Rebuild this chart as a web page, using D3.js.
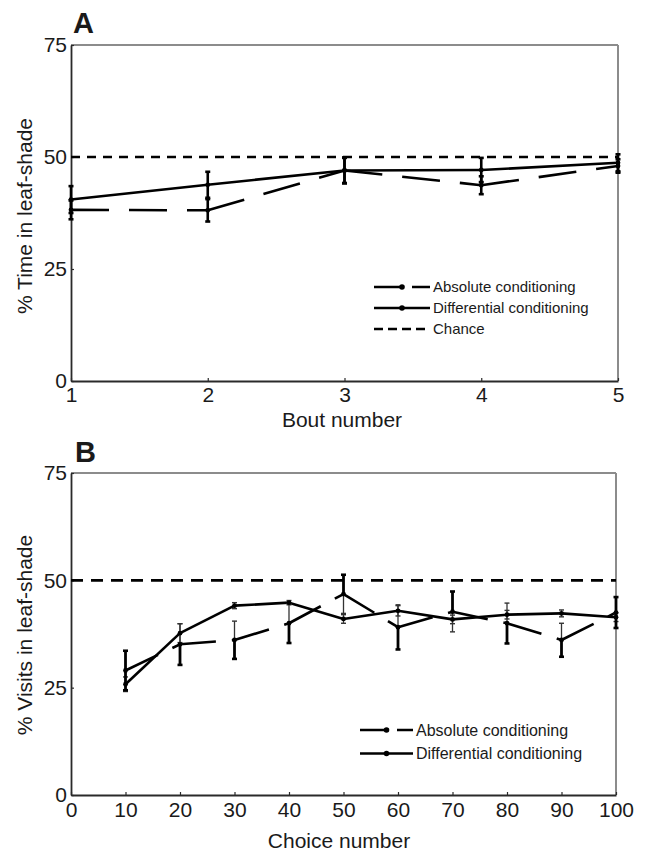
<!DOCTYPE html>
<html>
<head>
<meta charset="utf-8">
<script src="https://cdn.jsdelivr.net/npm/d3@7/dist/d3.min.js"></script>
<style>
  html, body { margin: 0; padding: 0; background: #fff; }
  svg text { font-family: "Liberation Sans", Arial, Helvetica, sans-serif; fill: #1a1a1a; }
</style>
</head>
<body>
<svg id="fig" width="645" height="853"></svg>
<script>
// Panel A: share of time spent on the leaf-shade side over five bouts
const boutNumbers = [1, 2, 3, 4, 5];
const boutAbsolute = [38.2, 38.1, 47.0, 43.7, 48.0];
const boutAbsoluteErr = [2.1, 2.5, 2.9, 2.0, 1.5];
const boutDifferential = [40.5, 43.8, 47.0, 47.1, 48.7];
const boutDifferentialErr = [3.0, 2.9, 2.8, 2.7, 1.9];

// Panel B: share of visits to leaf-shade over blocks of ten choices
const choiceNumbers = [10, 20, 30, 40, 50, 60, 70, 80, 90, 100];
const choiceAbsolute = [29.0, 35.1, 36.1, 40.0, 46.8, 39.1, 42.7, 40.0, 36.1, 42.5];
const choiceAbsoluteErr = [4.6, 4.8, 4.4, 4.6, 4.5, 5.2, 4.7, 4.7, 3.9, 3.6];
const choiceDifferential = [25.8, 37.7, 44.1, 44.8, 41.0, 42.9, 40.9, 42.0, 42.3, 41.4];
const choiceDifferentialErr = [1.7, 2.2, 0.7, 0.5, 1.0, 1.2, 1.0, 1.0, 0.8, 1.0];

const chanceLevel = 50;
const yTicks = [0, 25, 50, 75];
const boutTicks = [1, 2, 3, 4, 5];
const choiceTicks = [0, 10, 20, 30, 40, 50, 60, 70, 80, 90, 100];

const svg = d3.select("#fig");

function drawPanel(cfg) {
  const g = svg.append("g");
  const x = cfg.x, y = cfg.y;
  const [x0, x1] = x.range();
  const [y0, y1] = y.range(); // y0 bottom, y1 top

  // frame: grey top and right edges
  g.append("line").attr("x1", x0).attr("x2", x1).attr("y1", y1).attr("y2", y1)
    .attr("stroke", "#8c8c8c").attr("stroke-width", 2);
  g.append("line").attr("x1", x1).attr("x2", x1).attr("y1", y1).attr("y2", y0)
    .attr("stroke", "#8c8c8c").attr("stroke-width", 2);

  // axes
  const xAxis = d3.axisBottom(x).tickValues(cfg.xTicks).tickSize(-3).tickSizeOuter(0)
    .tickPadding(cfg.xPad).tickFormat(d3.format("d"));
  const yAxis = d3.axisLeft(y).tickValues(yTicks).tickSize(-3).tickSizeOuter(0)
    .tickPadding(4).tickFormat(d3.format("d"));

  const gx = g.append("g").attr("transform", `translate(0,${y0})`).call(xAxis);
  const gy = g.append("g").attr("transform", `translate(${x0},0)`).call(yAxis);
  [gx, gy].forEach(a => {
    a.select(".domain").attr("stroke", "#2a2a2a").attr("stroke-width", 1.8);
    a.selectAll(".tick line").attr("stroke", "#2a2a2a").attr("stroke-width", 1.2);
    a.selectAll("text").style("font-size", "21px").attr("fill", "#1a1a1a");
  });

  // chance level
  g.append("line")
    .attr("x1", x0).attr("x2", x1)
    .attr("y1", y(chanceLevel)).attr("y2", y(chanceLevel))
    .attr("stroke", "#000").attr("stroke-width", 2.6)
    .attr("stroke-dasharray", cfg.chanceDash);

  // series lines, dash pattern restarting at each vertex
  function seriesLine(xs, ys, dash, width) {
    const pts = xs.map((v, i) => [x(v), y(ys[i])]);
    const segs = d3.pairs(pts);
    g.append("g").selectAll("line").data(segs).join("line")
      .attr("x1", d => d[0][0]).attr("y1", d => d[0][1])
      .attr("x2", d => d[1][0]).attr("y2", d => d[1][1])
      .attr("stroke", "#000").attr("stroke-width", width)
      .attr("stroke-linecap", "butt")
      .attr("stroke-dasharray", dash);
  }
  seriesLine(cfg.xs, cfg.diff, null, 2.6);
  seriesLine(cfg.xs, cfg.abs, cfg.absDash, 2.6);

  // error bars
  function errorBars(xs, ys, es, widthFn, capW) {
    const eg = g.append("g");
    xs.forEach((v, i) => {
      const cx = x(v);
      const parts = [[ys[i], ys[i] + es[i], "up"], [ys[i] - es[i], ys[i], "down"]];
      parts.forEach(p => {
        const w = widthFn(i, p[2]);
        eg.append("line").attr("x1", cx).attr("x2", cx)
          .attr("y1", y(p[0])).attr("y2", y(p[1]))
          .attr("stroke", w < 2 ? "#333" : "#000").attr("stroke-width", w);
      });
      [ys[i] + es[i], ys[i] - es[i]].forEach((c, k) => {
        const w = widthFn(i, k === 0 ? "up" : "down");
        eg.append("line").attr("x1", cx - capW).attr("x2", cx + capW)
          .attr("y1", y(c)).attr("y2", y(c))
          .attr("stroke", w < 2 ? "#333" : "#000").attr("stroke-width", w < 2 ? 1.4 : 2.6);
      });
    });
  }
  errorBars(cfg.xs, cfg.diff, cfg.diffErr, cfg.diffBarWidth, 2.5);
  errorBars(cfg.xs, cfg.abs, cfg.absErr, cfg.absBarWidth, 2.5);

  // markers
  [cfg.abs, cfg.diff].forEach(vals => {
    g.append("g").selectAll("circle").data(vals).join("circle")
      .attr("cx", (d, i) => x(cfg.xs[i])).attr("cy", d => y(d))
      .attr("r", 2.4).attr("fill", "#000");
  });

  // panel letter
  g.append("text").attr("x", cfg.letterPos[0]).attr("y", cfg.letterPos[1])
    .style("font-size", "29px").style("font-weight", "bold").attr("fill", "#000")
    .text(cfg.letter);

  // axis titles
  g.append("text").attr("x", cfg.xTitlePos[0]).attr("y", cfg.xTitlePos[1])
    .attr("text-anchor", "middle").style("font-size", "21px").text(cfg.xTitle);
  g.append("text")
    .attr("transform", `translate(${cfg.yTitlePos[0]},${cfg.yTitlePos[1]}) rotate(-90)`)
    .attr("text-anchor", "middle").attr("dy", "0.35em")
    .style("font-size", "21px").text(cfg.yTitle);

  // legend
  const lg = g.append("g");
  cfg.legend.forEach((item, i) => {
    const ly = cfg.legendPos[1] + i * cfg.legendStep;
    const lx0 = cfg.legendPos[0], lx1 = lx0 + cfg.legendLen;
    lg.append("line").attr("x1", lx0).attr("x2", lx1).attr("y1", ly).attr("y2", ly)
      .attr("stroke", "#000").attr("stroke-width", 2.6)
      .attr("stroke-dasharray", item.dash);
    if (item.marker) {
      lg.append("circle").attr("cx", lx0 + cfg.legendLen / 2).attr("cy", ly)
        .attr("r", 2.8).attr("fill", "#000");
    }
    lg.append("text").attr("x", lx1 + 3).attr("y", ly).attr("dy", "0.35em")
      .style("font-size", cfg.legendFont).text(item.label);
  });
}

// Panel A
drawPanel({
  letter: "A", letterPos: [73, 33],
  x: d3.scaleLinear().domain([1, 5]).range([71, 618]),
  y: d3.scaleLinear().domain([0, 75]).range([381, 45]),
  xTicks: boutTicks, xPad: 6,
  xs: boutNumbers,
  abs: boutAbsolute, absErr: boutAbsoluteErr,
  diff: boutDifferential, diffErr: boutDifferentialErr,
  absDash: "38,20", chanceDash: "9,7",
  absBarWidth: () => 2.6, diffBarWidth: () => 2.6,
  xTitle: "Bout number", xTitlePos: [342, 427],
  yTitle: "% Time in leaf-shade", yTitlePos: [25, 216],
  legendPos: [374, 287], legendStep: 21, legendLen: 56, legendFont: "15px",
  legend: [
    { label: "Absolute conditioning", dash: "30,8", marker: true },
    { label: "Differential conditioning", dash: null, marker: true },
    { label: "Chance", dash: "9,5", marker: false }
  ]
});

// Panel B: the half of each absolute-conditioning bar that points toward the
// differential curve is drawn thin, the other half heavy
drawPanel({
  letter: "B", letterPos: [75, 462],
  x: d3.scaleLinear().domain([0, 100]).range([71, 616]),
  y: d3.scaleLinear().domain([0, 75]).range([795, 473]),
  xTicks: choiceTicks, xPad: 7,
  xs: choiceNumbers,
  abs: choiceAbsolute, absErr: choiceAbsoluteErr,
  diff: choiceDifferential, diffErr: choiceDifferentialErr,
  absDash: "36,16", chanceDash: "12,8",
  absBarWidth: (i, dir) => {
    const towardUp = choiceDifferential[i] > choiceAbsolute[i];
    const thin = (dir === "up") === towardUp;
    return thin && i > 0 && i < choiceNumbers.length - 1 ? 1.3 : 2.8;
  },
  diffBarWidth: () => 1.3,
  xTitle: "Choice number", xTitlePos: [339, 848],
  yTitle: "% Visits in leaf-shade", yTitlePos: [25, 635],
  legendPos: [360, 730], legendStep: 23.5, legendLen: 53, legendFont: "16px",
  legend: [
    { label: "Absolute conditioning", dash: "29,8", marker: true },
    { label: "Differential conditioning", dash: null, marker: true }
  ]
});
</script>
</body>
</html>
